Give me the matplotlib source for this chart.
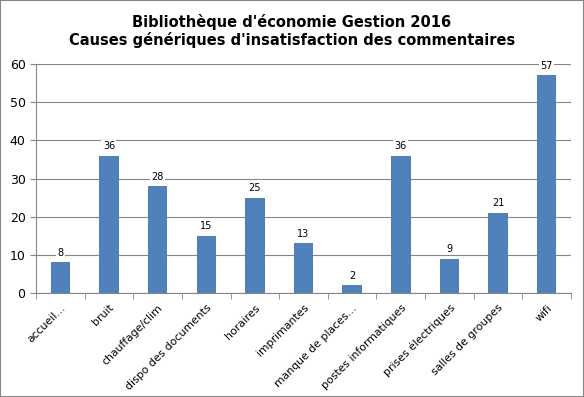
import numpy as np
import matplotlib.pyplot as plt
from matplotlib.patches import Rectangle

categories = ["accueil\u2026", "bruit", "chauffage/clim", "dispo des documents", "horaires",
              "imprimantes", "manque de places\u2026", "postes informatiques",
              "prises électriques", "salles de groupes", "wifi"]
values = [8, 36, 28, 15, 25, 13, 2, 36, 9, 21, 57]

fig = plt.figure(figsize=(5.84, 3.97), dpi=100)
ax = fig.add_axes([36 / 584, 1 - 293 / 397, 535 / 584, 229 / 397])

x = np.arange(len(categories))
bars = ax.bar(x, values, width=0.4, color="#4f81bd", zorder=3)
for xi, v in zip(x, values):
    ax.text(xi, v + 1.2, str(v), ha="center", va="bottom", fontsize=7, zorder=4,
            bbox=dict(facecolor="white", edgecolor="none", pad=1))

ax.set_xlim(-0.5, len(categories) - 0.5)
ax.set_ylim(0, 60)
ax.set_yticks(range(0, 61, 10))
ax.yaxis.grid(True, color="#868686", linewidth=0.8, zorder=0)
ax.set_xticks(x)
ax.set_xticklabels(categories, rotation=45, ha="right", rotation_mode="anchor", fontsize=7.8)
ax.set_xticks(np.arange(-0.5, len(categories), 1), minor=True)
ax.tick_params(axis="x", which="major", length=0, pad=7)
ax.tick_params(axis="x", which="minor", length=4, color="#868686")
ax.tick_params(axis="y", length=4, color="#868686", labelsize=9)
for side in ["top", "right"]:
    ax.spines[side].set_visible(False)
for side in ["left", "bottom"]:
    ax.spines[side].set_color("#868686")

fig.suptitle("Bibliothèque d'économie Gestion 2016\nCauses génériques d'insatisfaction des commentaires",
             y=0.965, fontsize=10.5, fontweight="bold", linespacing=1.15)

fig.patches.append(Rectangle((0, 0), 1, 1, transform=fig.transFigure, fill=False,
                             edgecolor="#868686", linewidth=1.5))

fig.savefig("out.png", dpi=100)
